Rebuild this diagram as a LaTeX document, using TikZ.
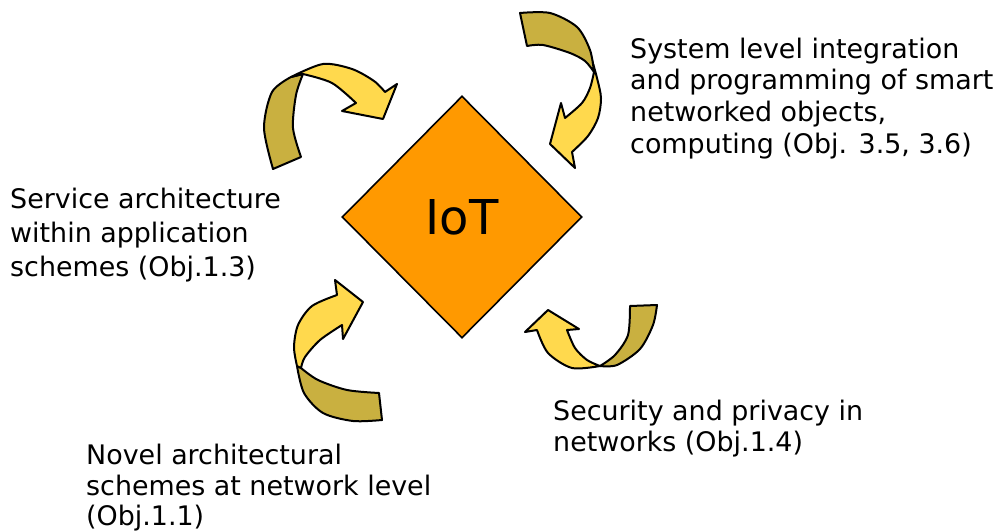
\documentclass[tikz,border=0pt]{standalone}
\usepackage{fontspec}
\setmainfont{DejaVu Sans}
\usetikzlibrary{shapes.geometric}
\definecolor{iotorange}{RGB}{255,153,0}
\definecolor{arrfront}{RGB}{255,217,77}
\definecolor{arrback}{RGB}{201,176,64}
\tikzset{
  front/.style={fill=arrfront,draw=black,line width=2pt,line join=round},
  back/.style={fill=arrback,draw=black,line width=2pt,line join=round},
  lbl/.style={anchor=north west,inner sep=0pt,align=left,text=black},
}
\begin{document}
\begin{tikzpicture}[x=1pt,y=-1pt]
\useasboundingbox (0,0) rectangle (1000,532);
\fill[white] (0,0) rectangle (1000,532);

% diamond
\node[diamond,draw=black,line width=1.6pt,fill=iotorange,inner sep=0pt,
      minimum width=240pt,minimum height=242pt,text depth=0pt,
      font=\fontsize{48}{56}\selectfont] (iot) at (462,217) {IoT};

% arrow 1 (top-left)
\filldraw[back] (273,169) -- (301,157) -- plot[smooth] coordinates {(301,157) (293,128) (296,95) (303,74)}
  -- (291,77) -- plot[smooth] coordinates {(291,77) (272,92) (264,128) (273,169)} -- cycle;
\filldraw[front] plot[smooth] coordinates {(291,77) (323,64) (352,69) (374,81) (385,92)}
  -- (397,84) -- (383,119) -- (342,111) -- (356,103)
  -- plot[smooth] coordinates {(356,103) (332,83) (303,74)} -- cycle;

% arrow 2 (top-right)
\filldraw[front] plot[smooth] coordinates {(594,72) (590,88) (582,103) (565,118)}
  -- (561,103) -- (550,144) -- (575,168) -- (572,152)
  -- plot[smooth] coordinates {(572,152) (588,136) (598,118) (601,98) (597,78) (592,60)} -- cycle;
\filldraw[back] (527,46) -- (520,13) -- plot[smooth] coordinates {(520,13) (550,13) (577,27) (590,50) (594,72)}
  -- plot[smooth] coordinates {(594,72) (585,61) (570,53) (543,45) (527,46)} -- cycle;

% arrow 3 (bottom-left)
\filldraw[back] plot[smooth] coordinates {(297,366) (304,393) (323,413) (353,421) (382,420)}
  -- (379,393) -- plot[smooth] coordinates {(379,393) (347,390) (318,380) (301,368)} -- cycle;
\filldraw[front] plot[smooth] coordinates {(301,368) (305,357) (320,340) (342,325)}
  -- (343,339) -- (363,302) -- (335,280) -- (337,295)
  -- plot[smooth] coordinates {(337,295) (312,306) (298,325) (294,347) (297,366)} -- cycle;

% arrow 4 (bottom-right)
\filldraw[back] plot[smooth] coordinates {(600,366) (617,365) (640,349) (653,325) (657,305)}
  -- (630,306) -- plot[smooth] coordinates {(630,306) (628,335) (615,355) (600,366)} -- cycle;
\filldraw[front] (537,330) -- (525,332) -- (548,310) -- (579,329) -- (567,330)
  -- plot[smooth] coordinates {(567,330) (575,348) (587,360) (600,366)}
  -- plot[smooth] coordinates {(600,366) (572,368) (548,353) (537,330)} -- cycle;

% labels
\node[lbl,font=\fontsize{26.9}{31.7}\selectfont] (t1) at (630,35.8)
  {\strut System level integration\\and programming of smart\\networked objects,\\computing (Obj. 3.5, 3.6)};
\node[lbl,font=\fontsize{26.9}{34.3}\selectfont] (t2) at (10,184)
  {\strut Service architecture\\within application\\schemes (Obj.1.3)};
\node[lbl,font=\fontsize{26.9}{31}\selectfont] (t3) at (553,398.3)
  {\strut Security and privacy in\\networks (Obj.1.4)};
\node[lbl,font=\fontsize{26.9}{30.5}\selectfont] (t4) at (86,443)
  {\strut Novel architectural\\schemes at network level\\(Obj.1.1)};
\end{tikzpicture}
\end{document}
